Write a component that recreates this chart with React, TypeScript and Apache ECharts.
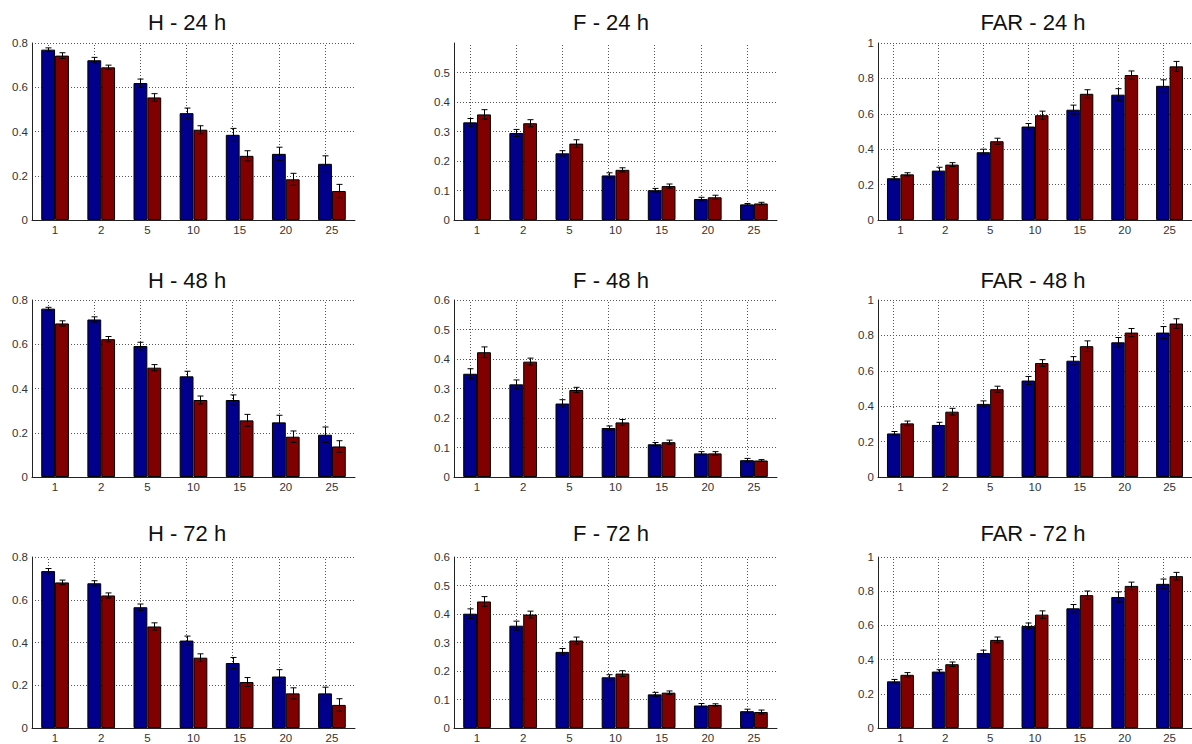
import React, { useEffect, useRef } from "react";
import * as echarts from "echarts";

const CATEGORIES = ["1", "2", "5", "10", "15", "20", "25"];

// H panels
const H24_BLUE = [0.77, 0.722, 0.619, 0.483, 0.385, 0.299, 0.254];
const H24_BLUE_ERR = [0.008, 0.013, 0.018, 0.023, 0.029, 0.03, 0.036];
const H24_RED = [0.743, 0.69, 0.554, 0.408, 0.29, 0.184, 0.131];
const H24_RED_ERR = [0.013, 0.01, 0.017, 0.018, 0.023, 0.027, 0.03];

const H48_BLUE = [0.761, 0.712, 0.592, 0.455, 0.348, 0.247, 0.191];
const H48_BLUE_ERR = [0.006, 0.012, 0.017, 0.023, 0.023, 0.032, 0.035];
const H48_RED = [0.694, 0.623, 0.494, 0.348, 0.256, 0.182, 0.138];
const H48_RED_ERR = [0.012, 0.012, 0.014, 0.018, 0.027, 0.026, 0.026];

const H72_BLUE = [0.734, 0.677, 0.565, 0.409, 0.304, 0.241, 0.162];
const H72_BLUE_ERR = [0.012, 0.012, 0.015, 0.021, 0.026, 0.032, 0.029];
const H72_RED = [0.681, 0.62, 0.475, 0.329, 0.215, 0.162, 0.108];
const H72_RED_ERR = [0.011, 0.012, 0.017, 0.018, 0.021, 0.026, 0.029];

// F panels
const F24_BLUE = [0.331, 0.295, 0.226, 0.151, 0.101, 0.071, 0.053];
const F24_BLUE_ERR = [0.013, 0.012, 0.009, 0.009, 0.006, 0.006, 0.003];
const F24_RED = [0.358, 0.328, 0.259, 0.17, 0.115, 0.077, 0.056];
const F24_RED_ERR = [0.016, 0.012, 0.013, 0.007, 0.007, 0.007, 0.004];

const F48_BLUE = [0.35, 0.314, 0.249, 0.166, 0.111, 0.08, 0.057];
const F48_BLUE_ERR = [0.017, 0.015, 0.013, 0.007, 0.006, 0.006, 0.006];
const F48_RED = [0.423, 0.391, 0.295, 0.185, 0.118, 0.08, 0.056];
const F48_RED_ERR = [0.018, 0.012, 0.009, 0.01, 0.007, 0.006, 0.003];

const F72_BLUE = [0.401, 0.359, 0.267, 0.178, 0.118, 0.079, 0.059];
const F72_BLUE_ERR = [0.017, 0.016, 0.012, 0.009, 0.007, 0.007, 0.007];
const F72_RED = [0.444, 0.398, 0.307, 0.191, 0.124, 0.081, 0.056];
const F72_RED_ERR = [0.017, 0.012, 0.012, 0.01, 0.006, 0.004, 0.007];

// FAR panels
const FAR24_BLUE = [0.236, 0.279, 0.383, 0.528, 0.623, 0.708, 0.758];
const FAR24_BLUE_ERR = [0.009, 0.019, 0.017, 0.017, 0.026, 0.034, 0.034];
const FAR24_RED = [0.258, 0.313, 0.445, 0.592, 0.713, 0.819, 0.868];
const FAR24_RED_ERR = [0.009, 0.011, 0.017, 0.023, 0.023, 0.023, 0.028];

const FAR48_BLUE = [0.246, 0.294, 0.413, 0.545, 0.657, 0.761, 0.816];
const FAR48_BLUE_ERR = [0.011, 0.015, 0.017, 0.023, 0.023, 0.027, 0.034];
const FAR48_RED = [0.303, 0.369, 0.496, 0.644, 0.739, 0.816, 0.867];
const FAR48_RED_ERR = [0.013, 0.019, 0.017, 0.019, 0.03, 0.023, 0.027];

const FAR72_BLUE = [0.273, 0.33, 0.438, 0.597, 0.7, 0.766, 0.843];
const FAR72_BLUE_ERR = [0.011, 0.011, 0.017, 0.017, 0.022, 0.03, 0.028];
const FAR72_RED = [0.311, 0.373, 0.515, 0.663, 0.777, 0.831, 0.888];
const FAR72_RED_ERR = [0.013, 0.013, 0.017, 0.022, 0.024, 0.022, 0.022];

const PANELS = [
  { title: "H - 24 h", blue: H24_BLUE, blueErr: H24_BLUE_ERR, red: H24_RED, redErr: H24_RED_ERR, max: 0.8, interval: 0.2, hideMax: false },
  { title: "F - 24 h", blue: F24_BLUE, blueErr: F24_BLUE_ERR, red: F24_RED, redErr: F24_RED_ERR, max: 0.6, interval: 0.1, hideMax: true },
  { title: "FAR - 24 h", blue: FAR24_BLUE, blueErr: FAR24_BLUE_ERR, red: FAR24_RED, redErr: FAR24_RED_ERR, max: 1, interval: 0.2, hideMax: false },
  { title: "H - 48 h", blue: H48_BLUE, blueErr: H48_BLUE_ERR, red: H48_RED, redErr: H48_RED_ERR, max: 0.8, interval: 0.2, hideMax: false },
  { title: "F - 48 h", blue: F48_BLUE, blueErr: F48_BLUE_ERR, red: F48_RED, redErr: F48_RED_ERR, max: 0.6, interval: 0.1, hideMax: false },
  { title: "FAR - 48 h", blue: FAR48_BLUE, blueErr: FAR48_BLUE_ERR, red: FAR48_RED, redErr: FAR48_RED_ERR, max: 1, interval: 0.2, hideMax: false },
  { title: "H - 72 h", blue: H72_BLUE, blueErr: H72_BLUE_ERR, red: H72_RED, redErr: H72_RED_ERR, max: 0.8, interval: 0.2, hideMax: false },
  { title: "F - 72 h", blue: F72_BLUE, blueErr: F72_BLUE_ERR, red: F72_RED, redErr: F72_RED_ERR, max: 0.6, interval: 0.1, hideMax: false },
  { title: "FAR - 72 h", blue: FAR72_BLUE, blueErr: FAR72_BLUE_ERR, red: FAR72_RED, redErr: FAR72_RED_ERR, max: 1, interval: 0.2, hideMax: false },
];

const COL_LEFT = [32, 454, 878];
const COL_TITLE_X = [187, 611, 1033];
const ROW_TOP = [43, 300, 557];
const ROW_TITLE_TOP = [11, 269, 522];
const GRID_W = 323;
const GRID_H = 177;

const BLUE = "#00008C";
const RED = "#800000";
const LABEL_COLOR = "#333";
const BAR_FRAC = 0.3;

function errorSeries(idx: number, vals: number[], errs: number[], side: number) {
  return {
    type: "custom",
    xAxisIndex: idx,
    yAxisIndex: idx,
    z: 6,
    silent: true,
    data: vals.map((v, i) => [i, v, errs[i]]),
    encode: { x: 0, y: 1 },
    renderItem: (params: any, api: any) => {
      const i = api.value(0);
      const v = api.value(1);
      const e = api.value(2);
      const band = api.size([1, 0])[0];
      const c = api.coord([i, v]);
      const x = Math.round(c[0] + side * band * (BAR_FRAC / 2)) + 0.5;
      const top = api.coord([i, v + e])[1];
      const bot = api.coord([i, v - e])[1];
      const cap = 3;
      const st = { stroke: "#000", lineWidth: 1 };
      return {
        type: "group",
        children: [
          { type: "line", shape: { x1: x, y1: top, x2: x, y2: bot }, style: st },
          { type: "line", shape: { x1: x - cap, y1: top, x2: x + cap, y2: top }, style: st },
          { type: "line", shape: { x1: x - cap, y1: bot, x2: x + cap, y2: bot }, style: st },
        ],
      };
    },
  };
}

export default function App() {
  const ref = useRef<HTMLDivElement>(null);
  useEffect(() => {
    if (!ref.current) return;
    const chart = echarts.init(ref.current, undefined, { renderer: "svg" });
    const grids: any[] = [];
    const xAxes: any[] = [];
    const yAxes: any[] = [];
    const titles: any[] = [];
    const series: any[] = [];
    PANELS.forEach((p, idx) => {
      const row = Math.floor(idx / 3);
      const col = idx % 3;
      grids.push({ left: COL_LEFT[col], top: ROW_TOP[row], width: GRID_W, height: GRID_H, containLabel: false });
      titles.push({
        text: p.title,
        left: COL_TITLE_X[col],
        top: ROW_TITLE_TOP[row],
        textAlign: "center",
        padding: 0,
        textStyle: { fontFamily: "Liberation Sans, Arial, sans-serif", fontSize: 22, fontWeight: "normal", color: "#111" },
      });
      xAxes.push({
        type: "category",
        gridIndex: idx,
        data: CATEGORIES,
        boundaryGap: true,
        axisLine: { show: true, lineStyle: { color: "#222", width: 1 } },
        axisTick: { show: false },
        axisLabel: { color: LABEL_COLOR, fontSize: 11.5, margin: 4, fontFamily: "Liberation Sans, Arial, sans-serif", interval: 0 },
        splitLine: { show: false },
      });
      yAxes.push({
        type: "value",
        gridIndex: idx,
        min: 0,
        max: p.max,
        interval: p.interval,
        axisLine: { show: true, lineStyle: { color: "#222", width: 1 } },
        axisTick: { show: false },
        axisLabel: {
          color: LABEL_COLOR,
          fontSize: 11.5,
          margin: 4,
          fontFamily: "Liberation Sans, Arial, sans-serif",
          showMaxLabel: !p.hideMax,
        },
        splitLine: {
          show: true,
          showMinLine: false,
          showMaxLine: !p.hideMax,
          lineStyle: { color: "#555", width: 1, type: [1, 2] },
        },
      });
      series.push({
        type: "bar",
        xAxisIndex: idx,
        yAxisIndex: idx,
        z: 3,
        data: p.blue,
        barWidth: "30%",
        barGap: "0%",
        itemStyle: { color: BLUE, borderColor: "#000", borderWidth: 1 },
        emphasis: { disabled: true },
        silent: true,
        markLine: {
          silent: true,
          z: 1,
          symbol: ["none", "none"],
          label: { show: false },
          lineStyle: { color: "#555", width: 1, type: [1, 2] },
          data: CATEGORIES.map((_, i) => ({ xAxis: i })),
          animation: false,
        },
      });
      series.push({
        type: "bar",
        xAxisIndex: idx,
        yAxisIndex: idx,
        z: 3,
        data: p.red,
        barWidth: "30%",
        barGap: "0%",
        itemStyle: { color: RED, borderColor: "#000", borderWidth: 1 },
        emphasis: { disabled: true },
        silent: true,
      });
      series.push(errorSeries(idx, p.blue, p.blueErr, -1));
      series.push(errorSeries(idx, p.red, p.redErr, 1));
    });
    chart.setOption({
      animation: false,
      backgroundColor: "#fff",
      title: titles,
      grid: grids,
      xAxis: xAxes,
      yAxis: yAxes,
      series,
    });
    return () => chart.dispose();
  }, []);
  return (
    <div
      ref={ref}
      style={{ position: "absolute", left: 0, top: 0, width: 1192, height: 744 }}
    />
  );
}
